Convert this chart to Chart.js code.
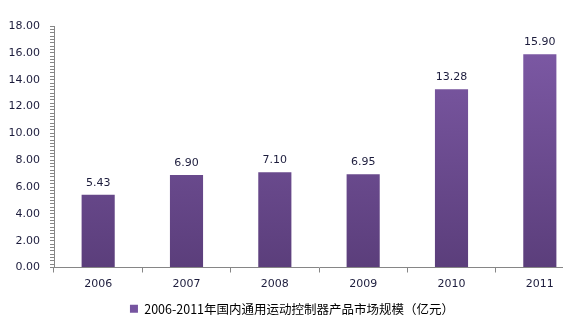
<!DOCTYPE html>
<html>
<head>
<meta charset="utf-8">
<script src="https://cdn.jsdelivr.net/npm/chart.js@4/dist/chart.umd.min.js"></script>
<style>
  html, body { margin: 0; padding: 0; background: #fff; overflow: hidden; }
  #wrap { width: 590px; height: 325px; }
</style>
</head>
<body>
<div id="wrap"><canvas id="barChart" width="590" height="325"></canvas></div>
<script>
const years = ['2006', '2007', '2008', '2009', '2010', '2011'];
const marketSize = [5.43, 6.90, 7.10, 6.95, 13.28, 15.90];
const seriesLabel = '2006-2011年国内通用运动控制器产品市场规模（亿元）';

const textColor = '#1c1c3c';
const axisColor = '#868686';
const numFont = { family: 'DejaVu Sans', size: 11 };

// values drawn above each bar
const valueLabels = {
    id: 'valueLabels',
    afterDatasetsDraw(chart) {
        const ctx = chart.ctx;
        const meta = chart.getDatasetMeta(0);
        ctx.save();
        ctx.font = '11px "DejaVu Sans"';
        ctx.fillStyle = textColor;
        ctx.textAlign = 'center';
        ctx.textBaseline = 'middle';
        meta.data.forEach(function(bar, i) {
            ctx.fillText(marketSize[i].toFixed(2), bar.x, bar.y - 12);
        });
        ctx.restore();
    }
};

function barGradient(context) {
    const area = context.chart.chartArea;
    if (!area) {
        return '#6f4f96';
    }
    const g = context.chart.ctx.createLinearGradient(0, area.top, 0, area.bottom);
    g.addColorStop(0, '#7f5ba8');
    g.addColorStop(1, '#5b3e7b');
    return g;
}

new Chart(document.getElementById('barChart'), {
    type: 'bar',
    data: {
        labels: years,
        datasets: [{
            label: seriesLabel,
            data: marketSize,
            backgroundColor: barGradient,
            borderWidth: 0,
            barPercentage: 0.375,
            categoryPercentage: 1
        }]
    },
    options: {
        responsive: false,
        animation: false,
        layout: {
            padding: { left: 0, right: 6, top: 26, bottom: 0 }
        },
        plugins: {
            tooltip: { enabled: false },
            legend: {
                position: 'bottom',
                align: 'center',
                labels: {
                    boxWidth: 8,
                    boxHeight: 8,
                    padding: 5,
                    color: '#000',
                    font: { family: 'Noto Sans CJK SC', size: 12.5 },
                    generateLabels: function() {
                        return [{
                            text: seriesLabel,
                            fillStyle: '#7654a0',
                            strokeStyle: '#7654a0',
                            lineWidth: 0
                        }];
                    }
                }
            }
        },
        scales: {
            x: {
                grid: {
                    offset: true,
                    drawOnChartArea: false,
                    tickLength: 5,
                    color: axisColor
                },
                border: { color: axisColor },
                ticks: {
                    color: textColor,
                    font: numFont,
                    padding: 5
                },
                afterFit: function(scale) {
                    scale.height = 30;
                }
            },
            y: {
                min: 0,
                max: 18,
                grid: {
                    drawOnChartArea: false,
                    tickLength: 4,
                    color: axisColor
                },
                border: { color: axisColor },
                ticks: {
                    stepSize: 0.25,
                    autoSkip: false,
                    maxTicksLimit: 100,
                    padding: 10,
                    color: textColor,
                    font: numFont,
                    callback: function(v) {
                        return v % 2 === 0 ? v.toFixed(2) : '';
                    }
                },
                afterFit: function(scale) {
                    scale.width = 54;
                }
            }
        }
    },
    plugins: [valueLabels]
});
</script>
</body>
</html>
